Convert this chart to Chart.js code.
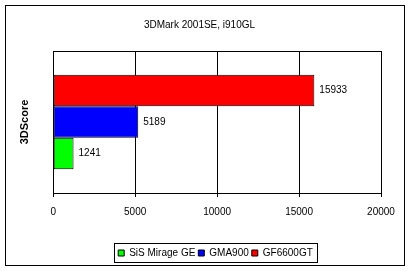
<!DOCTYPE html>
<html>
<head>
<meta charset="utf-8">
<script src="https://cdn.jsdelivr.net/npm/chart.js@4/dist/chart.umd.min.js"></script>
<style>
html, body { margin: 0; padding: 0; background: #fff; }
</style>
</head>
<body>
<canvas id="chart" width="410" height="271"></canvas>
<script>
var chartTitle = "3DMark 2001SE, i910GL";
var categories = ["3DScore"];
// top to bottom as drawn
var cards = ["GF6600GT", "GMA900", "SiS Mirage GE"];
var scores = [15933, 5189, 1241];
var barColors = ["#ff0000", "#0000ff", "#00ff00"];
var xMax = 20000;
var xStep = 5000;

var font = "'Liberation Sans', Arial, sans-serif";

var datasets = cards.map(function (name, i) {
    return {
        label: name,
        data: [scores[i]],
        backgroundColor: barColors[i],
        borderColor: "#000",
        borderWidth: 1,
        borderSkipped: false
    };
});

// outer frame + box around the plot area
var framePlugin = {
    id: "frame",
    afterLayout: function (chart) {
        // legend sits a bit right of centre in the original
        chart.legend.left += 16;
        chart.legend.right += 16;
    },
    beforeDraw: function (chart) {
        var ctx = chart.ctx;
        ctx.save();
        ctx.fillStyle = "#fff";
        ctx.fillRect(0, 0, chart.width, chart.height);
        ctx.strokeStyle = "#000";
        ctx.lineWidth = 1;
        ctx.strokeRect(5.5, 5.5, chart.width - 11, chart.height - 11);
        ctx.restore();
    },
    afterDatasetsDraw: function (chart) {
        var a = chart.chartArea;
        var ctx = chart.ctx;
        ctx.save();
        ctx.strokeStyle = "#000";
        ctx.lineWidth = 1;
        ctx.strokeRect(Math.round(a.left) + 0.5, Math.round(a.top) + 0.5,
            Math.round(a.right - a.left), Math.round(a.bottom - a.top));
        ctx.restore();
    }
};

// numbers to the right of each bar
var valuePlugin = {
    id: "values",
    afterDatasetsDraw: function (chart) {
        var ctx = chart.ctx;
        ctx.save();
        ctx.font = "10px " + font;
        ctx.fillStyle = "#000";
        ctx.textBaseline = "middle";
        chart.data.datasets.forEach(function (ds, i) {
            chart.getDatasetMeta(i).data.forEach(function (bar, j) {
                ctx.fillText(String(ds.data[j]), bar.x + 5, bar.y);
            });
        });
        ctx.restore();
    }
};

// black box around the legend
var legendBoxPlugin = {
    id: "legendBox",
    afterDraw: function (chart) {
        var boxes = chart.legend.legendHitBoxes;
        if (!boxes.length) return;
        var l = boxes[0].left, r = boxes[boxes.length - 1].left + boxes[boxes.length - 1].width;
        var t = boxes[0].top, h = boxes[0].height;
        var ctx = chart.ctx;
        ctx.save();
        ctx.strokeStyle = "#000";
        ctx.lineWidth = 1;
        ctx.strokeRect(Math.round(l - 4) + 0.5, Math.round(t - 5) + 0.5, Math.round(r - l + 8), Math.round(h + 9));
        ctx.restore();
    }
};

new Chart("chart", {
    type: "bar",
    data: {
        labels: categories,
        datasets: datasets
    },
    options: {
        indexAxis: "y",
        responsive: false,
        animation: false,
        events: [],
        layout: { padding: { left: 18, right: 29, top: 12, bottom: 3 } },
        datasets: { bar: { categoryPercentage: 0.667, barPercentage: 1 } },
        scales: {
            x: {
                min: 0,
                max: xMax,
                ticks: {
                    stepSize: xStep,
                    color: "#000",
                    font: { family: font, size: 10 },
                    padding: 9,
                    callback: function (v) { return String(v); }
                },
                grid: { color: "#000", tickLength: 4, tickColor: "#000" },
                border: { color: "#000" },
                afterFit: function (scale) { scale.height += 18; }
            },
            y: {
                ticks: { display: false },
                grid: { display: false },
                border: { color: "#000" },
                title: { display: true, text: categories[0], color: "#000", font: { family: font, size: 11, weight: "bold" }, padding: { top: 0, bottom: 14 } }
            }
        },
        plugins: {
            title: { display: true, text: chartTitle, color: "#000", font: { family: font, size: 10, weight: "normal" }, padding: { top: 7, bottom: 20 } },
            legend: {
                position: "bottom",
                reverse: true,
                labels: { boxWidth: 6, boxHeight: 6, color: "#000", font: { family: font, size: 10 }, padding: 3 }
            },
            tooltip: { enabled: false }
        }
    },
    plugins: [framePlugin, valuePlugin, legendBoxPlugin]
});
</script>
</body>
</html>
